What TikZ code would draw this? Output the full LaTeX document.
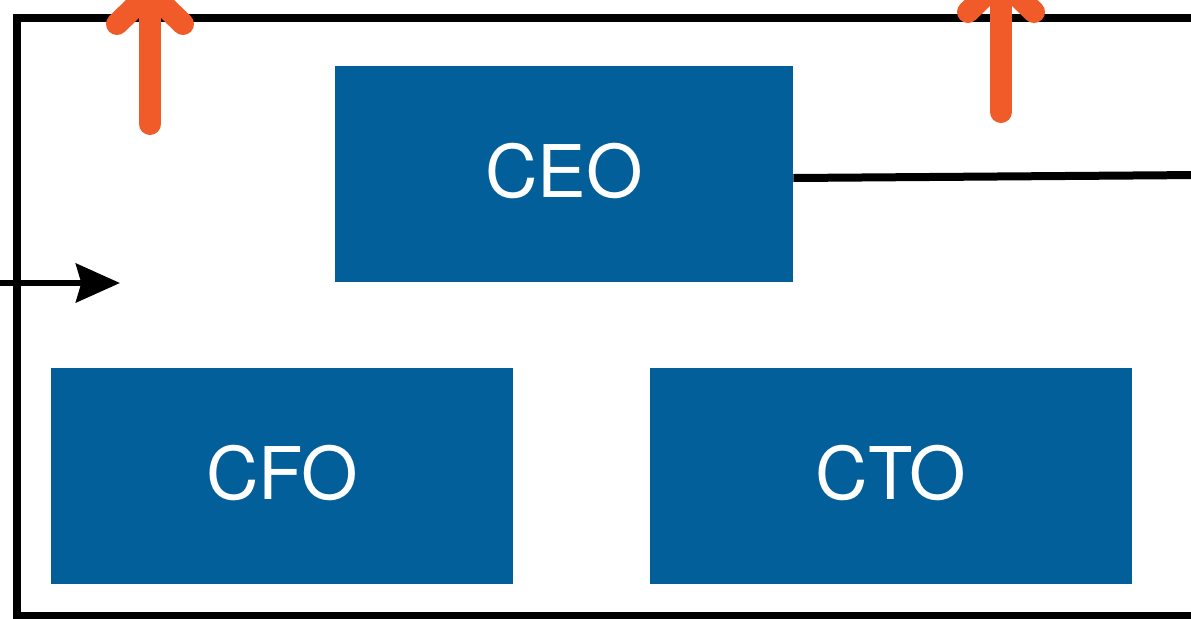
\documentclass[tikz,border=0pt]{standalone}
\usepackage{fontspec}
\setmainfont{TeX Gyre Heros}
\usetikzlibrary{arrows.meta}
\definecolor{boxblue}{HTML}{035F9A}
\definecolor{arrorange}{HTML}{F15A29}
\begin{document}
\begin{tikzpicture}[x=0.75pt,y=-0.75pt,
  rolebox/.style={rectangle, fill=boxblue, draw=none, text=white, inner sep=0pt,
    minimum height=162pt, font=\fontsize{54.5}{60}\selectfont},
  frame/.style={line width=6pt, draw=black},
  inarrow/.style={line width=4.8pt, draw=black},
  upflag/.style={line width=16.5pt, draw=arrorange, line cap=round, line join=round}]
\useasboundingbox (0,0) rectangle (1191,618);
\clip (0,0) rectangle (1191,618);
\fill[white] (0,0) rectangle (1191,618);
% frame
\draw[frame] (1260,18) -- (17,18) -- (17,616) -- (1260,616);
% boxes
\node[rolebox, minimum width=343.5pt] (ceo) at (564,174) {\raisebox{5pt}{CEO}};
\node[rolebox, minimum width=346.5pt] (cfo) at (282,476) {\raisebox{5pt}{CFO}};
\node[rolebox, minimum width=361.5pt] (cto) at (891,476) {\raisebox{5pt}{CTO}};
% CEO connector
\coordinate (ceoout) at (1200,175);
\draw[frame] ([yshift=-3pt]ceo.east) -- (ceoout);
% left incoming arrow
\coordinate (inL) at (-10,283);
\coordinate (inTip) at (120,283);
\draw[inarrow, -{Stealth[length=33pt, width=29pt, inset=4pt]}] (inL) -- (inTip);
% orange up arrows
\coordinate (a1b) at (150,124);
\coordinate (a1t) at (150,-8);
\coordinate (a1l) at (117,24);
\coordinate (a1r) at (183,24);
\draw[upflag] (a1b) -- (a1t);
\draw[upflag] (a1l) -- (a1t) -- (a1r);
\coordinate (a2b) at (1001,112);
\coordinate (a2t) at (1001,-20);
\coordinate (a2l) at (968,12);
\coordinate (a2r) at (1034,12);
\draw[upflag] (a2b) -- (a2t);
\draw[upflag] (a2l) -- (a2t) -- (a2r);
\end{tikzpicture}
\end{document}
